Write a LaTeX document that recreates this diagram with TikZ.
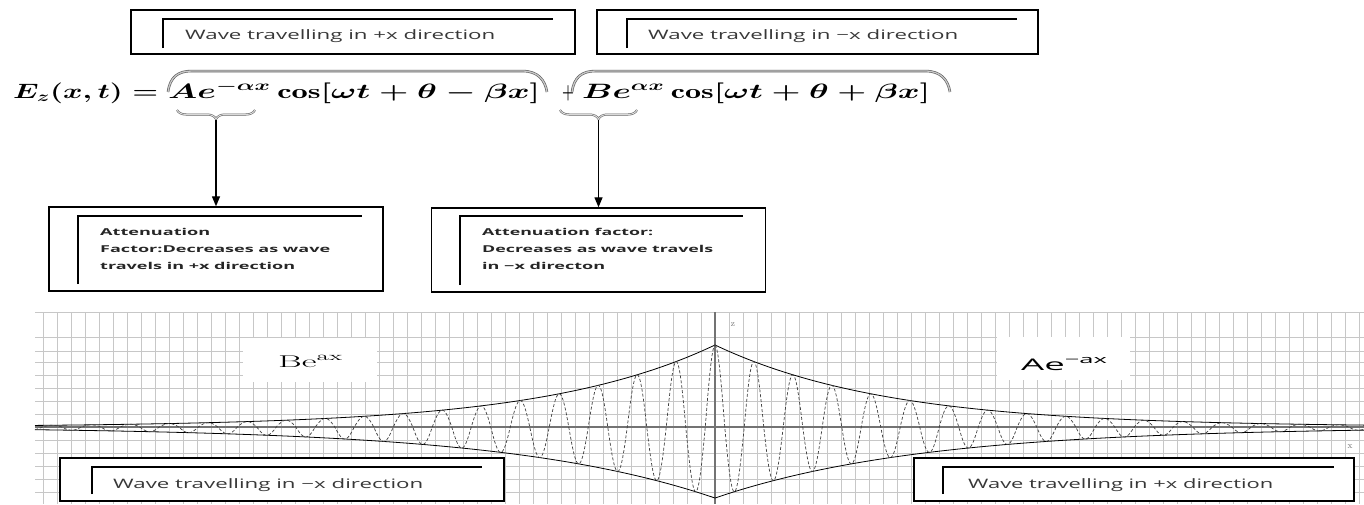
\documentclass[tikz,border=0pt]{standalone}
\usepackage{fontspec}
\usepackage{graphicx}
\usetikzlibrary{arrows.meta,decorations.pathreplacing}
\newfontfamily\boxfont{Open Sans}
\newcommand{\fitw}[2]{\resizebox{#1}{\height}{#2}}
\begin{document}
\begin{tikzpicture}[x=1pt,y=-1pt,
  outerbox/.style={draw=black,line width=1.4pt,fill=white,inner sep=0pt},
  gammaline/.style={line width=1.4pt,black},
  gridline/.style={draw=black!22,line width=0.6pt},
  obrace/.style={draw=black!65,line width=0.6pt,double=black!22,double distance=1.3pt},
  ubrace/.style={draw=black!65,line width=0.5pt,double=black!15,double distance=1pt,decorate,decoration={brace,mirror,amplitude=9pt}},
  arr/.style={line width=1.3pt,black,-{Triangle[length=10pt,width=8pt]}},
  boxtxt/.style={anchor=base west,inner sep=0pt,text=black!78},
  smalltxt/.style={anchor=base west,inner sep=0pt,text=black!85},
  envline/.style={black,line width=0.8pt},
  wave/.style={black!75,line width=0.7pt,dash pattern=on 3pt off 2pt},
  axisline/.style={draw=black!55,line width=1.6pt},
  declare function={envU(\d)=82*exp(-0.0058*\d);
                    envL(\d)=71*exp(-0.0048*\d);
                    cw(\d)=cos(9.2308*\d);
                    wv(\d)=max(cw(\d),0)*envU(\d)+min(cw(\d),0)*envL(\d);}
]
\useasboundingbox (0,0) rectangle (1364,504);
\fill[white] (0,0) rectangle (1364,504);

% ---------- grid ----------
\foreach \k in {-48,...,46} \draw[gridline] ({715+14*\k},312) -- ({715+14*\k},504);
\foreach \yy in {312,337,351,362,375,388,401,414,440,453,466,479,492}
  \draw[gridline] (35,\yy) -- (1364,\yy);
\fill[white] (243,338) rectangle (377,382);
\fill[white] (997,337) rectangle (1130,380);

% ---------- axes ----------
\draw[axisline] (35,427) -- (1364,427);
\draw[axisline] (715,312) -- (715,504);
\node[inner sep=0pt,text=black!55,font=\fontsize{9}{10}\selectfont] (zlab) at (733,325) {z};
\node[inner sep=0pt,text=black!55,font=\fontsize{9}{10}\selectfont] (xlab) at (1350,447) {x};

% ---------- envelopes ----------
\draw[envline] plot[domain=35:715,samples=160] (\x,{427-envU(715-\x)});
\draw[envline] plot[domain=35:715,samples=160] (\x,{427+envL(715-\x)});
\draw[envline] plot[domain=715:1364,samples=160] (\x,{427-envU(\x-715)});
\draw[envline] plot[domain=715:1364,samples=160] (\x,{427+envL(\x-715)});

% ---------- wave ----------
\draw[wave] plot[domain=35:715,samples=700] (\x,{427-wv(715-\x)});
\draw[wave] plot[domain=715:1364,samples=700] (\x,{427-wv(\x-715)});

% ---------- plot labels ----------
\node[anchor=base west,inner sep=0pt] (lblB) at (278,367)
  {\fitw{65pt}{\fontsize{17}{20}\selectfont Be\textsuperscript{ax}}};
\node[anchor=base west,inner sep=0pt] (lblA) at (1021,370)
  {\fitw{87pt}{\fontsize{16}{19}\boxfont Ae\textsuperscript{−ax}}};

% ---------- top boxes ----------
\node[outerbox,minimum width=444pt,minimum height=44pt] (top1) at (353,32) {};
\draw[gammaline] (163,48) -- (163,19) -- (553,19);
\node[boxtxt] (top1t) at (185,39) {\fitw{310pt}{\fontsize{13}{15}\boxfont Wave travelling in +x direction}};

\node[outerbox,minimum width=441pt,minimum height=44pt] (top2) at (817.5,32) {};
\draw[gammaline] (627,48) -- (627,19) -- (1017,19);
\node[boxtxt] (top2t) at (648,39) {\fitw{310pt}{\fontsize{13}{15}\boxfont Wave travelling in −x direction}};

% ---------- equation ----------
\node[anchor=base west,inner sep=0pt] (eqL) at (13,98)
  {\fitw{145pt}{\fontsize{20}{24}\selectfont\boldmath$E_z(x,t) =$}};
\node[anchor=base west,inner sep=0pt] (eqA) at (168,98)
  {\fitw{372pt}{\fontsize{20}{24}\selectfont\boldmath$Ae^{-\alpha x}\cos[\omega t+\theta-\beta x]$}};
\node[anchor=base west,inner sep=0pt] (eqP) at (562,98)
  {\fitw{12pt}{\fontsize{20}{24}\selectfont\boldmath$+$}};
\node[anchor=base west,inner sep=0pt] (eqB) at (582,98)
  {\fitw{348pt}{\fontsize{20}{24}\selectfont\boldmath$Be^{\alpha x}\cos[\omega t+\theta+\beta x]$}};

% overbraces
\draw[obrace] (168,92) .. controls (170,77) and (178,71) .. (192,71) -- (522,71) .. controls (538,71) and (545,80) .. (547,92);
\draw[obrace] (572,92) .. controls (574,77) and (582,71) .. (596,71) -- (925,71) .. controls (941,71) and (948,80) .. (950,92);

% underbraces
\draw[ubrace] (177,110) -- (255,110);
\draw[ubrace] (560,110) -- (637,110);
\coordinate (tipA) at (216,120);
\coordinate (tipB) at (598.5,120);

% ---------- attenuation boxes ----------
\node[outerbox,minimum width=334pt,minimum height=84pt] (att1) at (216,249) {};
\draw[gammaline] (78,284) -- (78,216) -- (362,216);
\node[smalltxt] (att1a) at (100,235) {\fitw{110pt}{\fontsize{9.5}{11}\boxfont\bfseries Attenuation}};
\node[smalltxt] (att1b) at (100,252) {\fitw{230pt}{\fontsize{9.5}{11}\boxfont\bfseries Factor:Decreases as wave}};
\node[smalltxt] (att1c) at (100,269) {\fitw{195pt}{\fontsize{9.5}{11}\boxfont\bfseries travels in +x direction}};

\node[outerbox,minimum width=334pt,minimum height=84pt] (att2) at (598.5,250) {};
\draw[gammaline] (460,285) -- (460,216) -- (743,216);
\node[smalltxt] (att2a) at (482,235) {\fitw{171pt}{\fontsize{9.5}{11}\boxfont\bfseries Attenuation factor:}};
\node[smalltxt] (att2b) at (482,252) {\fitw{231pt}{\fontsize{9.5}{11}\boxfont\bfseries Decreases as wave travels}};
\node[smalltxt] (att2c) at (482,269) {\fitw{123pt}{\fontsize{9.5}{11}\boxfont\bfseries in −x directon}};

\draw[arr] (tipA) -- (att1.north -| tipA);
\draw[arr] (tipB) -- (att2.north -| tipB);

% ---------- bottom boxes ----------
\node[outerbox,minimum width=444pt,minimum height=43pt] (bot1) at (282,479.5) {};
\draw[gammaline] (92,494) -- (92,467) -- (482,467);
\node[boxtxt] (bot1t) at (113,488) {\fitw{310pt}{\fontsize{13}{15}\boxfont Wave travelling in −x direction}};

\node[outerbox,minimum width=440pt,minimum height=43pt] (bot2) at (1134,479.5) {};
\draw[gammaline] (943,494) -- (943,467) -- (1334,467);
\node[boxtxt] (bot2t) at (968,488) {\fitw{305pt}{\fontsize{13}{15}\boxfont Wave travelling in +x direction}};
\end{tikzpicture}
\end{document}
